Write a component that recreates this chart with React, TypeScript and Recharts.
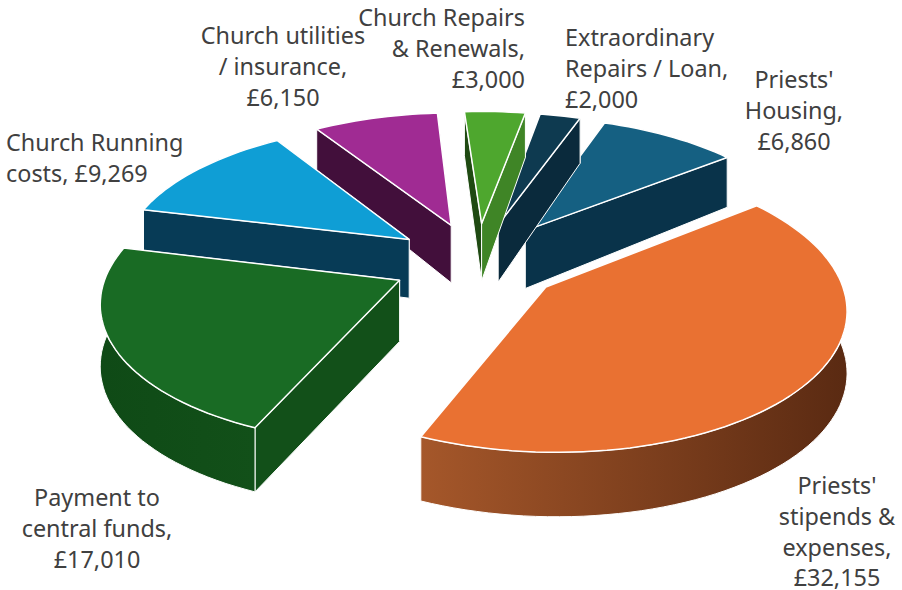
import React from "react";
import { Pie, PieChart } from "recharts";

// slices in drawing order, far side first, running counter-clockwise
const categories = [
  "Priests' Housing",
  "Extraordinary Repairs / Loan",
  "Church Repairs & Renewals",
  "Church utilities / insurance",
  "Church Running costs",
  "Payment to central funds",
  "Priests' stipends & expenses",
];
const amounts = [6860, 2000, 3000, 6150, 9269, 17010, 32155];
const topColors = ["#156082", "#0e3a50", "#4ea72e", "#a02b93", "#0f9ed5", "#196b24", "#e97132"];
const wallLight = ["#09334a", "#0a2a3c", "#3f8526", "#420f3b", "#073b56", "#125019", "#a5572a"];
const wallDark = ["#09334a", "#0a2a3c", "#1f4a12", "#420f3b", "#073b56", "#0f4a16", "#5a2a12"];
const labelLines = [
  ["Priests'", "Housing,", "£6,860"],
  ["Extraordinary", "Repairs / Loan,", "£2,000"],
  ["Church Repairs", "& Renewals,", "£3,000"],
  ["Church utilities", "/ insurance,", "£6,150"],
  ["Church Running", "costs, £9,269"],
  ["Payment to", "central funds,", "£17,010"],
  ["Priests'", "stipends &", "expenses,", "£32,155"],
];
const labelPlace: [number, number, string][] = [
  [794, 88, "middle"],
  [565, 46, "start"],
  [525, 26, "end"],
  [283, 44, "middle"],
  [6, 151, "start"],
  [97, 506, "middle"],
  [837, 494, "middle"],
];

const data = categories.map((name, i) => ({ name, value: amounts[i], idx: i }));

const DEPTH = 2200;
const TILT = 0.47;
const EXPLODE = 85;
const THICK = 61;
const RAD = Math.PI / 180;

function Slice(props: any) {
  const { cx, cy, outerRadius: R, startAngle, endAngle, midAngle, payload } = props;
  const i = payload?.idx ?? props.idx ?? 0;
  const ex = Math.cos(midAngle * RAD) * EXPLODE;
  const ey = -Math.sin(midAngle * RAD) * EXPLODE;

  const project = (deg: number, r: number, bottom: boolean) => {
    const X = Math.cos(deg * RAD) * r + ex;
    const Y = -Math.sin(deg * RAD) * r + ey;
    const k = DEPTH / (DEPTH - Y);
    // walls get thinner towards the back of the pie
    const h = Y < 0 ? THICK + Y * 0.045 : THICK + Y * 0.01;
    return [cx + X * k, cy + Y * TILT * k + (bottom ? h : 0)];
  };
  const pt = (p: number[]) => `${p[0].toFixed(1)},${p[1].toFixed(1)}`;

  const steps = Math.max(4, Math.ceil(Math.abs(endAngle - startAngle) / 2));
  const topRim: number[][] = [];
  const botRim: number[][] = [];
  for (let s = 0; s <= steps; s++) {
    const a = startAngle + ((endAngle - startAngle) * s) / steps;
    topRim.push(project(a, R, false));
    botRim.push(project(a, R, true));
  }
  const apexTop = project(0, 0, false);
  const apexBot = project(0, 0, true);
  const first = topRim[0];
  const last = topRim[steps];

  const wallA = [apexTop, first, botRim[0], apexBot];
  const wallB = [apexTop, last, botRim[steps], apexBot];
  // the wall reaching lower on the page sits in front
  const walls = first[1] < last[1] ? [[wallA, 0], [wallB, 1]] : [[wallB, 1], [wallA, 0]];
  const outer = [...topRim, ...[...botRim].reverse()];
  const gradId = `wall-${i}`;
  const outerFace = (
    <polygon
      points={outer.map(pt).join(" ")}
      fill={`url(#${gradId})`}
      stroke="#fff"
      strokeWidth={1}
      strokeLinejoin="round"
    />
  );
  const nearSide = Math.sin(midAngle * RAD) < 0;
  const isLeft = Math.cos(midAngle * RAD) < 0;

  return (
    <g>
      <defs>
        <linearGradient id={gradId} x1="0" x2="1" y1="0" y2="0">
          <stop offset="0" stopColor={isLeft ? wallDark[i] : wallLight[i]} />
          <stop offset="1" stopColor={isLeft ? wallLight[i] : wallDark[i]} />
        </linearGradient>
      </defs>
      {!nearSide && outerFace}
      {walls.map(([w, side]: any) => (
        <polygon
          key={side}
          points={w.map(pt).join(" ")}
          fill={side === 1 && i === 2 ? wallDark[i] : wallLight[i]}
          stroke="#fff"
          strokeWidth={1}
          strokeLinejoin="round"
        />
      ))}
      {nearSide && outerFace}
      <polygon
        points={[apexTop, ...topRim].map(pt).join(" ")}
        fill={topColors[i]}
        stroke="#fff"
        strokeWidth={1.5}
        strokeLinejoin="round"
      />
    </g>
  );
}

function SliceLabel(props: any) {
  const i = props.payload?.idx ?? props.index;
  const [x, y, anchor] = labelPlace[i];
  return (
    <text
      x={x}
      y={y}
      textAnchor={anchor as any}
      fill="#404040"
      fontSize={23.4}
      fontFamily="'Noto Sans', sans-serif"
    >
      {labelLines[i].map((line, n) => (
        <tspan key={n} x={x} y={y + n * 30.8}>
          {line}
        </tspan>
      ))}
    </text>
  );
}

export default function App() {
  return (
    <div style={{ position: "absolute", left: 0, top: 0, width: 902, height: 590, background: "#fff" }}>
      <PieChart width={902} height={590} margin={{ top: 0, right: 0, bottom: 0, left: 0 }}>
        <Pie
          data={data}
          dataKey="value"
          nameKey="name"
          cx={477}
          cy={262}
          innerRadius={0}
          outerRadius={290}
          startAngle={38}
          endAngle={398}
          stroke="none"
          shape={Slice}
          label={SliceLabel}
          labelLine={false}
          isAnimationActive={false}
        />
      </PieChart>
    </div>
  );
}
